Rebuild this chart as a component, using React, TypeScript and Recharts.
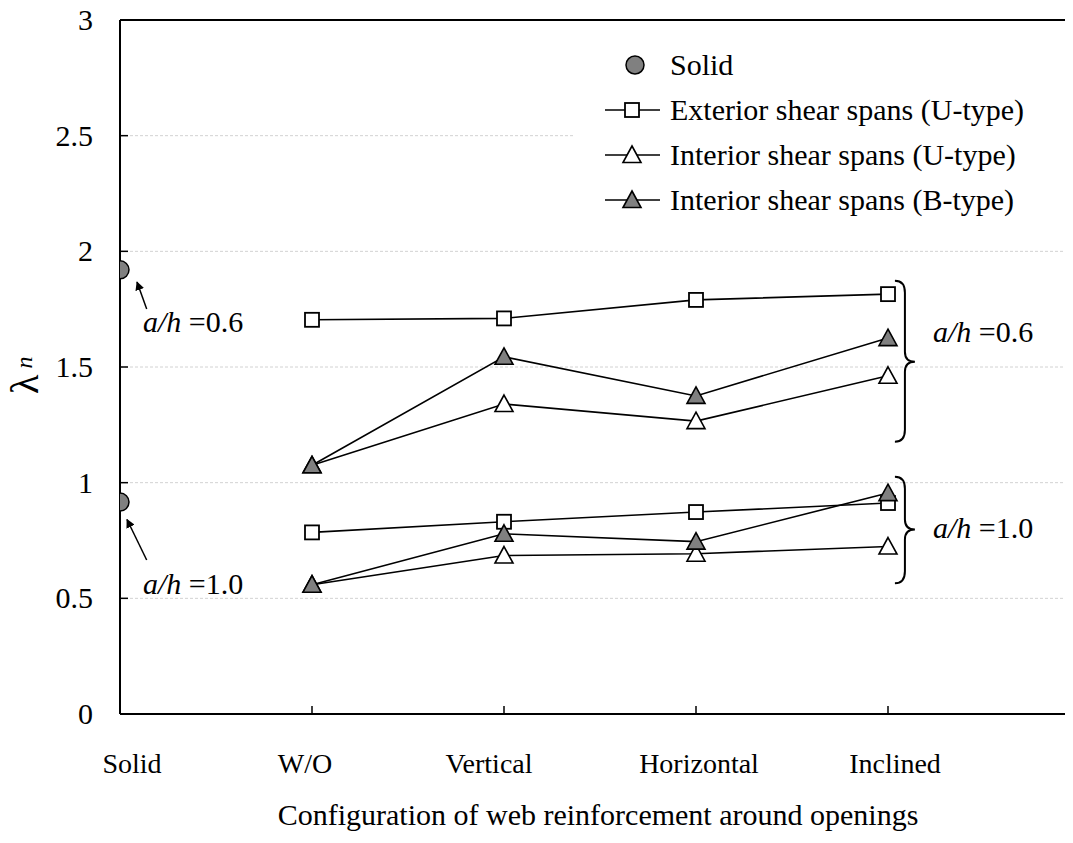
import React from 'react'
import {
  ComposedChart,
  Line,
  Scatter,
  XAxis,
  YAxis,
  CartesianGrid,
  ReferenceLine,
  Legend,
} from 'recharts'

const CATEGORIES = ['Solid', 'W/O', 'Vertical', 'Horizontal', 'Inclined']
const CATEGORY_X = [0, 1, 2, 3, 4]
const Y_TICKS = [0, 0.5, 1, 1.5, 2, 2.5, 3]

// solid beams (x = "Solid"): a/h = 0.6, a/h = 1.0
const SOLID = [1.92, 0.916]

// W/O, Vertical, Horizontal, Inclined — a/h = 0.6
const EXT_U_06 = [1.704, 1.71, 1.79, 1.815]
const INT_U_06 = [1.075, 1.34, 1.266, 1.462]
const INT_B_06 = [1.075, 1.544, 1.375, 1.625]

// W/O, Vertical, Horizontal, Inclined — a/h = 1.0
const EXT_U_10 = [0.785, 0.831, 0.873, 0.912]
const INT_U_10 = [0.559, 0.685, 0.693, 0.724]
const INT_B_10 = [0.559, 0.779, 0.745, 0.955]

const NAMES = {
  solid: 'Solid',
  ext: 'Exterior shear spans (U-type)',
  intU: 'Interior shear spans (U-type)',
  intB: 'Interior shear spans (B-type)',
}

const FONT = '"Liberation Serif", "Times New Roman", serif'
const GRAY = '#808080'

// chart layout
const W = 1090
const H = 843
const MARGIN = { top: 20, right: 10, bottom: 29, left: 20 }
const PLOT = { left: 120, top: 20, width: 960, height: 694 }
const X_MAX = 5
const Y_MAX = 3
const sx = (v: number) => PLOT.left + (v / X_MAX) * PLOT.width
const sy = (v: number) => PLOT.top + (1 - v / Y_MAX) * PLOT.height

const LABEL_NUDGE = [12, -7, -15, 3, 7]

const toPoints = (vals: number[]) => vals.map((y, i) => ({ x: CATEGORY_X[i + 1], y }))
const solidPoints = SOLID.map((y) => ({ x: CATEGORY_X[0], y }))

type Kind = 'circle' | 'square' | 'triOpen' | 'triFill'

const KIND_BY_NAME: Record<string, Kind> = {
  [NAMES.solid]: 'circle',
  [NAMES.ext]: 'square',
  [NAMES.intU]: 'triOpen',
  [NAMES.intB]: 'triFill',
}

function Marker({ kind, cx, cy }: { kind: Kind; cx: number; cy: number }) {
  if (cx == null || cy == null) return null
  if (kind === 'circle')
    return <circle cx={cx} cy={cy} r={9} fill={GRAY} stroke="#000" strokeWidth={1.5} />
  if (kind === 'square')
    return (
      <rect x={cx - 7} y={cy - 7} width={14} height={14} fill="#fff" stroke="#000" strokeWidth={1.8} />
    )
  return (
    <polygon
      points={`${cx},${cy - 9} ${cx + 9},${cy + 7.5} ${cx - 9},${cy + 7.5}`}
      fill={kind === 'triOpen' ? '#fff' : GRAY}
      stroke="#000"
      strokeWidth={1.6}
      strokeLinejoin="miter"
    />
  )
}

const dotOf = (kind: Kind) => (p: any) => <Marker key={`${kind}-${p.index}`} kind={kind} cx={p.cx} cy={p.cy} />

function XTick(props: any) {
  const { x, y, payload } = props
  const i = CATEGORY_X.indexOf(payload.value)
  return (
    <g>
      {i > 0 && <line x1={x} x2={x} y1={y} y2={y - 8} stroke="#000" strokeWidth={1.5} />}
      <text x={x + (LABEL_NUDGE[i] ?? 0)} y={y + 59} textAnchor="middle" fontSize={28} fontFamily={FONT} fill="#000">
        {CATEGORIES[i]}
      </text>
    </g>
  )
}

function YTick(props: any) {
  const { x, y, payload } = props
  return (
    <g>
      <line x1={x} x2={x + 8} y1={y} y2={y} stroke="#000" strokeWidth={1.5} />
      <text x={x - 27} y={y + 10} textAnchor="end" fontSize={30} fontFamily={FONT} fill="#000">
        {String(payload.value)}
      </text>
    </g>
  )
}

function LegendBox(props: any) {
  const payload = (props.payload ?? []) as any[]
  const rows = [NAMES.solid, NAMES.ext, NAMES.intU, NAMES.intB]
    .map((n) => payload.find((p) => p.value === n))
    .filter(Boolean)
  return (
    <svg width={500} height={190} style={{ display: 'block' }}>
      <rect x={0} y={0} width={500} height={190} fill="#fff" />
      {rows.map((p: any, i: number) => {
        const cy = 27 + i * 45
        const kind = KIND_BY_NAME[p.value]
        return (
          <g key={p.value}>
            {kind !== 'circle' && <line x1={32} x2={87} y1={cy} y2={cy} stroke="#000" strokeWidth={1.5} />}
            <Marker kind={kind} cx={kind === 'circle' ? 62 : 59} cy={cy} />
            <text x={97} y={cy + 10} fontSize={30} fontFamily={FONT} fill="#000">
              {p.value}
            </text>
          </g>
        )
      })}
    </svg>
  )
}

function Brace({ x, top, mid, bottom }: { x: number; top: number; mid: number; bottom: number }) {
  const x0 = sx(x)
  const x1 = x0 + 10
  const x2 = x0 + 20
  const t = sy(top)
  const m = sy(mid)
  const b = sy(bottom)
  const d = `M${x0},${t} Q${x1},${t} ${x1},${t + 12} L${x1},${m - 10} Q${x1},${m} ${x2},${m} Q${x1},${m} ${x1},${m + 10} L${x1},${b - 12} Q${x1},${b} ${x0},${b}`
  return <path d={d} fill="none" stroke="#000" strokeWidth={2} />
}

function AhLabel({ x, y, value }: { x: number; y: number; value: string }) {
  return (
    <text x={x} y={y} fontSize={30} fontFamily={FONT} fill="#000">
      <tspan fontStyle="italic">a/h</tspan>
      <tspan> ={value}</tspan>
    </text>
  )
}

function Annotations() {
  return (
    <svg
      width={1073}
      height={843}
      style={{ position: 'absolute', left: 0, top: 0, pointerEvents: 'none' }}
    >
      <defs>
        <marker id="ah" viewBox="0 0 10 10" refX="9" refY="5" markerWidth="6" markerHeight="6" orient="auto">
          <path d="M0,0 L10,5 L0,10 z" fill="#000" />
        </marker>
      </defs>
      <line x1={146.7} y1={309} x2={137} y2={282} stroke="#000" strokeWidth={1.5} markerEnd="url(#ah)" />
      <line x1={146.7} y1={560} x2={127} y2={519.5} stroke="#000" strokeWidth={1.5} markerEnd="url(#ah)" />
      <AhLabel x={143} y={332} value="0.6" />
      <AhLabel x={143} y={594} value="1.0" />
      <Brace x={4.036} top={1.873} mid={1.523} bottom={1.177} />
      <Brace x={4.036} top={1.026} mid={0.798} bottom={0.565} />
      <AhLabel x={933} y={342} value="0.6" />
      <AhLabel x={933} y={538} value="1.0" />
    </svg>
  )
}

export default function App() {
  return (
    <div
      style={{
        position: 'relative',
        margin: -8,
        width: 1073,
        height: 843,
        overflow: 'hidden',
        background: '#fff',
        fontFamily: FONT,
      }}
    >
      <ComposedChart width={W} height={H} margin={MARGIN}>
        <CartesianGrid horizontal vertical={false} stroke="#d2d2d2" strokeDasharray="3 2" />
        <XAxis
          type="number"
          dataKey="x"
          domain={[0, X_MAX]}
          ticks={CATEGORY_X}
          allowDataOverflow
          height={100}
          tickSize={0}
          tickMargin={0}
          tick={<XTick />}
          axisLine={{ stroke: '#000', strokeWidth: 2 }}
          label={{
            content: (p: any) => {
              const vb = p.viewBox ?? { x: PLOT.left, y: PLOT.top + PLOT.height, width: PLOT.width }
              return (
                <text x={vb.x + vb.width / 2 - 2} y={vb.y + 111} textAnchor="middle" fontSize={30} fontFamily={FONT} fill="#000">
                  Configuration of web reinforcement around openings
                </text>
              )
            },
          }}
        />
        <YAxis
          type="number"
          domain={[0, Y_MAX]}
          ticks={Y_TICKS}
          width={100}
          tickSize={0}
          tickMargin={0}
          tick={<YTick />}
          axisLine={{ stroke: '#000', strokeWidth: 2 }}
          label={{
            content: () => (
              <text transform="translate(38,394) rotate(-90)" fontFamily={FONT} fill="#000">
                <tspan fontSize={40}>λ</tspan>
                <tspan fontSize={24} fontStyle="italic" dx={6} dy={-6}>n</tspan>
              </text>
            ),
          }}
        />
        <ReferenceLine y={Y_MAX} stroke="#000" strokeWidth={2} />
        <Scatter
          name={NAMES.solid}
          data={solidPoints}
          dataKey="y"
          isAnimationActive={false}
          shape={(p: any) => <Marker kind="circle" cx={p.cx} cy={p.cy} />}
        />
        <Line name={NAMES.ext} data={toPoints(EXT_U_06)} dataKey="y" stroke="#000" strokeWidth={1.6} dot={dotOf('square')} activeDot={false} isAnimationActive={false} />
        <Line name={NAMES.intU} data={toPoints(INT_U_06)} dataKey="y" stroke="#000" strokeWidth={1.6} dot={dotOf('triOpen')} activeDot={false} isAnimationActive={false} />
        <Line name={NAMES.intB} data={toPoints(INT_B_06)} dataKey="y" stroke="#000" strokeWidth={1.6} dot={dotOf('triFill')} activeDot={false} isAnimationActive={false} />
        <Line name="ext10" legendType="none" data={toPoints(EXT_U_10)} dataKey="y" stroke="#000" strokeWidth={1.6} dot={dotOf('square')} activeDot={false} isAnimationActive={false} />
        <Line name="intU10" legendType="none" data={toPoints(INT_U_10)} dataKey="y" stroke="#000" strokeWidth={1.6} dot={dotOf('triOpen')} activeDot={false} isAnimationActive={false} />
        <Line name="intB10" legendType="none" data={toPoints(INT_B_10)} dataKey="y" stroke="#000" strokeWidth={1.6} dot={dotOf('triFill')} activeDot={false} isAnimationActive={false} />
        <Legend
          layout="vertical"
          align="center"
          verticalAlign="middle"
          content={<LegendBox />}
          wrapperStyle={{ position: 'absolute', left: 573, top: 38, width: 500, height: 190 }}
        />
      </ComposedChart>
      <Annotations />
    </div>
  )
}
